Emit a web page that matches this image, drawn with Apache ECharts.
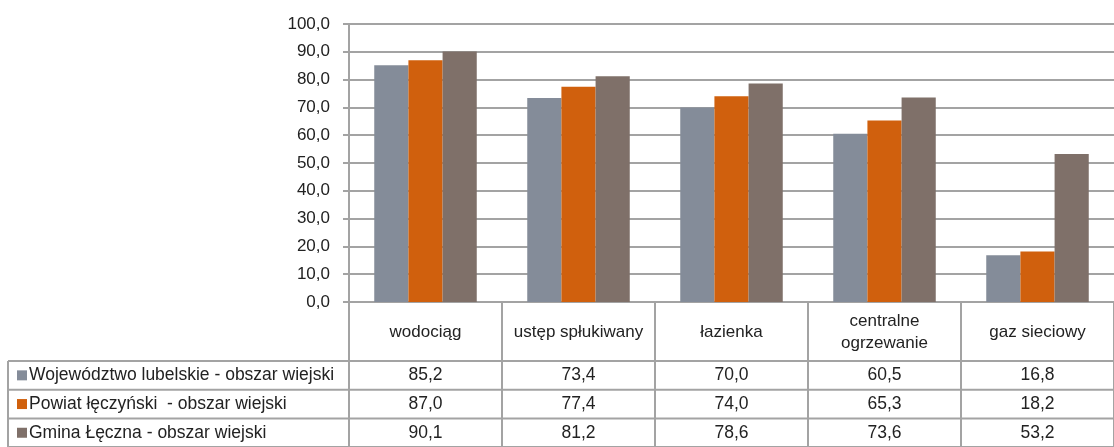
<!DOCTYPE html>
<html>
<head>
<meta charset="utf-8">
<script src="https://cdn.jsdelivr.net/npm/echarts@6/dist/echarts.min.js"></script>
<style>
  html, body { margin: 0; padding: 0; background: #fff; }
  #main { width: 1114px; height: 447px; }
</style>
</head>
<body>
<div id="main"></div>
<script>
// dane
const categories = ['wodociąg', 'ustęp spłukiwany', 'łazienka', 'centralne\nogrzewanie', 'gaz sieciowy'];
const seriesNames = [
  'Województwo lubelskie - obszar wiejski',
  'Powiat łęczyński  - obszar wiejski',
  'Gmina Łęczna - obszar wiejski'
];
const wojewodztwo = [85.2, 73.4, 70.0, 60.5, 16.8];
const powiat = [87.0, 77.4, 74.0, 65.3, 18.2];
const gmina = [90.1, 81.2, 78.6, 73.6, 53.2];
const colors = ['#848c99', '#d0600d', '#7f7069'];

const seriesData = [wojewodztwo, powiat, gmina];
const fmt = v => v.toFixed(1).replace('.', ',');
const lineColor = '#a3a3a3';
const font = 'Liberation Sans, Arial, sans-serif';

const myChart = echarts.init(document.getElementById('main'));

const option = {
  animation: false,
  grid: { left: 349, right: -2, top: 24, bottom: 145 },
  xAxis: {
    type: 'category',
    data: categories,
    axisLine: { lineStyle: { color: lineColor, width: 2 } },
    axisTick: { show: true, interval: 0, length: 145, lineStyle: { color: lineColor, width: 2 } },
    axisLabel: {
      interval: 0,
      margin: 30,
      verticalAlign: 'middle',
      color: '#222',
      fontSize: 17,
      fontFamily: font,
      overflow: 'none',
      lineHeight: 22
    }
  },
  yAxis: {
    type: 'value',
    min: 0,
    max: 100,
    interval: 10,
    axisLine: { show: true, lineStyle: { color: lineColor, width: 2 } },
    axisTick: { show: true, length: 6, lineStyle: { color: lineColor, width: 2 } },
    splitLine: { lineStyle: { color: lineColor, width: 2 } },
    axisLabel: {
      formatter: v => fmt(v),
      margin: 19,
      color: '#222',
      fontSize: 17,
      fontFamily: font
    }
  },
  series: seriesData.map((d, i) => ({
    type: 'bar',
    name: seriesNames[i],
    data: d,
    barGap: 0,
    barCategoryGap: '33%',
    itemStyle: { color: colors[i] }
  }))
};
myChart.setOption(option);

// tabela danych pod wykresem
const yBase = myChart.convertToPixel({ yAxisIndex: 0 }, 0);
const headerH = 59;
const rowH = 28.7;
const tableLeft = 8;
const step = myChart.convertToPixel({ xAxisIndex: 0 }, 1) - myChart.convertToPixel({ xAxisIndex: 0 }, 0);
const plotLeft = myChart.convertToPixel({ xAxisIndex: 0 }, 0) - step / 2;
const elements = [];
const rowTop = yBase + headerH;
for (let r = 0; r <= seriesNames.length; r++) {
  const y = rowTop + r * rowH;
  elements.push({
    type: 'line',
    shape: { x1: tableLeft, y1: y, x2: 1114, y2: y },
    style: { stroke: lineColor, lineWidth: 2 }
  });
}
elements.push({
  type: 'line',
  shape: { x1: tableLeft, y1: rowTop, x2: tableLeft, y2: rowTop + seriesNames.length * rowH },
  style: { stroke: lineColor, lineWidth: 2 }
});
elements.push({
  type: 'line',
  shape: { x1: plotLeft, y1: rowTop, x2: plotLeft, y2: rowTop + seriesNames.length * rowH },
  style: { stroke: lineColor, lineWidth: 2 }
});
seriesNames.forEach((name, r) => {
  const cy = rowTop + r * rowH + rowH / 2;
  elements.push({
    type: 'rect',
    shape: { x: 17, y: cy - 5, width: 10, height: 10 },
    style: { fill: colors[r] }
  });
  elements.push({
    type: 'text',
    x: 29,
    y: cy,
    style: { text: name, fill: '#222', font: '17.5px ' + font, verticalAlign: 'middle', align: 'left' }
  });
  seriesData[r].forEach((v, c) => {
    elements.push({
      type: 'text',
      x: myChart.convertToPixel({ xAxisIndex: 0 }, c),
      y: cy,
      style: { text: fmt(v), fill: '#222', font: '17.5px ' + font, verticalAlign: 'middle', align: 'center' }
    });
  });
});
myChart.setOption({ graphic: { elements: elements } });
</script>
</body>
</html>
